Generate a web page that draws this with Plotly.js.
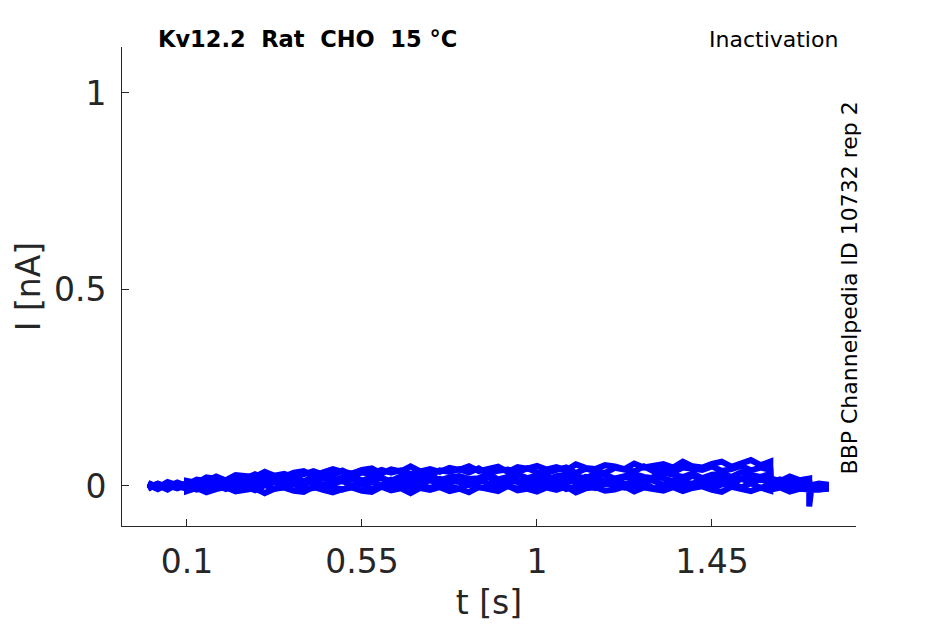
<!DOCTYPE html>
<html>
<head>
<meta charset="utf-8">
<script src="https://cdn.plot.ly/plotly-3.0.1.min.js"></script>
<style>
  html, body { margin: 0; padding: 0; background: #fff; }
  #chart { width: 945px; height: 624px; }
</style>
</head>
<body>
<div id="chart"></div>
<script>
// time axis in s (repeated points = steps of the protocol)
const t = [0, 0.025, 0.05, 0.075, 0.1,
  0.1, 0.125, 0.15, 0.175, 0.2, 0.225, 0.25, 0.275, 0.3, 0.325, 0.35, 0.375, 0.4, 0.425, 0.45,
  0.475, 0.5, 0.525, 0.55, 0.575, 0.6, 0.625, 0.65, 0.675, 0.7, 0.725, 0.75, 0.775, 0.8, 0.825,
  0.85, 0.875, 0.9, 0.925, 0.95, 0.975, 1, 1.025, 1.05, 1.075, 1.1, 1.125, 1.15, 1.175, 1.2,
  1.225, 1.25, 1.275, 1.3, 1.325, 1.35, 1.375, 1.4, 1.425, 1.45, 1.475, 1.5, 1.525, 1.55, 1.575, 1.6,
  1.6, 1.625, 1.65, 1.675, 1.7,
  1.7, 1.705, 1.725, 1.75];

// currents in pA, one sweep per array
const sweep1 = [8, -4, 10, 2, -6,
  13, 8, 22, 17, 15, 28, 26, 23, 36, 26, 24, 34, 38, 26, 35, 43, 36, 32, 41, 45,
  32, 42, 37, 50, 37, 43, 36, 46, 41, 50, 38, 44, 49, 36, 48, 44, 51, 42, 48, 40,
  55, 46, 43, 53, 50, 43, 57, 47, 50, 56, 47, 62, 50, 47, 56, 62, 49, 56, 66, 53, 62,
  20, 12, 24, 15, 19,
  5, 2, 6, 3];
const sweep2 = [-7, 6, -2, 9, 0,
  4, 16, 13, 24, 14, 24, 19, 30, 20, 26, 31, 22, 32, 38, 29, 28, 39, 27, 34, 31,
  41, 34, 40, 31, 37, 28, 40, 36, 43, 34, 45, 31, 39, 42, 34, 45, 35, 33, 41, 47,
  33, 44, 38, 33, 46, 42, 37, 50, 37, 42, 35, 47, 45, 41, 50, 38, 43, 51, 40, 47, 41,
  10, 17, 7, 14, 9,
  1, -2, 3, 0];
const sweep3 = [3, -8, 5, -1, 7,
  7, 1, 12, 17, 8, 7, 19, 15, 7, 18, 20, 14, 11, 25, 18, 14, 22, 25, 14, 22,
  19, 13, 25, 25, 18, 28, 15, 22, 25, 18, 20, 30, 17, 22, 29, 20, 27, 16, 25, 29,
  23, 20, 31, 28, 19, 25, 30, 23, 20, 34, 27, 23, 32, 20, 29, 31, 23, 35, 28, 23, 31,
  4, 8, 2, 6, 5,
  -1, 1, -3, 0];
const sweep4 = [-5, 2, -9, 6, -2,
  10, 2, 12, 8, 3, 17, 12, 4, 8, 16, 7, 17, 12, 9, 20, 7, 14, 17, 9, 12,
  22, 7, 16, 11, 21, 14, 18, 7, 20, 15, 10, 23, 14, 20, 10, 17, 12, 25, 13, 19,
  10, 23, 20, 12, 16, 24, 18, 10, 23, 20, 12, 15, 26, 15, 20, 23, 12, 17, 25, 15, 23,
  2, 6, -1, 4, 3,
  -3, -1, -5, -2];
const sweep5 = [7, -2, 1, -6, 3,
  -3, 3, -2, 9, 3, -1, 12, 2, 8, 10, -1, 7, 3, 15, 2, 9, 13, 0, 6, 11,
  1, 16, 11, 3, 6, 15, 4, 13, 10, 2, 17, 6, 15, 9, 13, 1, 11, 4, 14, 8,
  16, 7, 11, 4, 16, 6, 8, 18, 13, 3, 14, 11, 6, 17, 8, 13, 5, 18, 10, 17, 8,
  0, 4, -3, 2, -1,
  -5, -3, -6, -4];
const sweep6 = [-3, 6, -5, 0, -7,
  -1, -9, -4, 3, -8, 0, -2, -11, 2, -7, -2, 5, -8, -5, 2, -3, -9, 0, 4, -7,
  -3, 3, 0, -9, 2, -5, 4, -2, -7, 6, -3, -5, 2, 0, -7, 6, -4, 3, 4, -8,
  -1, 2, -5, 6, 3, -4, 0, 8, -6, -2, 6, -2, 2, 7, -6, 4, 8, -4, 7, -5, 4,
  -5, 2, -8, -2, -4,
  -7, -5, -9, -6];
const sweep7 = [2, -6, 5, -3, 1,
  -13, -5, -16, -8, -3, -14, -11, -6, -18, -7, -4, -12, -15, -2, -10,
  -16, -8, -4, -12, -15, -2, -11, -6, -18, -5, -10, -3, -13, -7, -16,
  -3, -8, -13, 0, -11, -7, -14, -4, -10, -1, -16, -6, -3, -12, -9,
  -1, -14, -4, -7, -12, -3, -13, -5, -1, -10, -15, -2, -8, -13, -4, -12,
  -10, -4, -14, -7, -9,
  -52, -10, -9, -7];

const xTicks = [0.1, 0.55, 1, 1.45];
const xTickText = ['0.1', '0.55', '1', '1.45'];
const yTicks = [0, 0.5, 1];
const yTickText = ['0', '0.5', '1'];

const sweeps = [sweep1, sweep2, sweep3, sweep4, sweep5, sweep6, sweep7];

const ink = '#262626';
const font = 'DejaVu Sans';

var traces = sweeps.map(function(s) {
  return {
    x: t,
    y: s.map(function(v) { return v / 1000; }),
    type: 'scatter',
    mode: 'lines',
    line: {color: '#0000ff', width: 6},
    hoverinfo: 'skip',
    showlegend: false
  };
});

var axisStyle = {
  ticks: 'inside',
  ticklen: 7,
  tickwidth: 1,
  tickcolor: ink,
  showline: true,
  linecolor: ink,
  linewidth: 1,
  showgrid: false,
  zeroline: false,
  tickfont: {family: font, size: 33, color: ink}
};

var layout = {
  width: 945,
  height: 624,
  margin: {l: 122, r: 89, t: 47, b: 98},
  paper_bgcolor: '#fff',
  plot_bgcolor: '#fff',
  font: {family: font, color: ink},
  xaxis: Object.assign({}, axisStyle, {
    range: [-0.0671, 1.8203],
    tickmode: 'array',
    tickvals: xTicks,
    ticktext: xTickText,
    ticklabelstandoff: 6,
    title: {text: 't [s]', font: {family: font, size: 33, color: ink}, standoff: 11}
  }),
  yaxis: Object.assign({}, axisStyle, {
    range: [-0.1018, 1.117],
    tickmode: 'array',
    tickvals: yTicks,
    ticktext: yTickText,
    ticklabelstandoff: 8,
    title: {text: 'I [nA]', font: {family: font, size: 33, color: ink}, standoff: 3}
  }),
  annotations: [
    {
      text: 'Kv12.2\u00a0\u00a0Rat\u00a0\u00a0CHO\u00a0\u00a015 °C',
      xref: 'paper', yref: 'paper', x: 0.046, y: 1.0167,
      xanchor: 'left', yanchor: 'middle', showarrow: false,
      font: {family: font, size: 22.5, color: '#000', weight: 'bold'}
    },
    {
      text: 'Inactivation',
      xref: 'paper', yref: 'paper', x: 0.978, y: 1.0167,
      xanchor: 'right', yanchor: 'middle', showarrow: false,
      font: {family: font, size: 22, color: '#000'}
    },
    {
      text: 'BBP Channelpedia ID 10732 rep 2',
      xref: 'paper', yref: 'paper', x: 0.9905, y: 0.496,
      xanchor: 'center', yanchor: 'middle', textangle: -90, showarrow: false,
      font: {family: font, size: 22, color: '#000'}
    }
  ]
};

Plotly.newPlot('chart', traces, layout, {displayModeBar: false, staticPlot: true});
</script>
</body>
</html>
